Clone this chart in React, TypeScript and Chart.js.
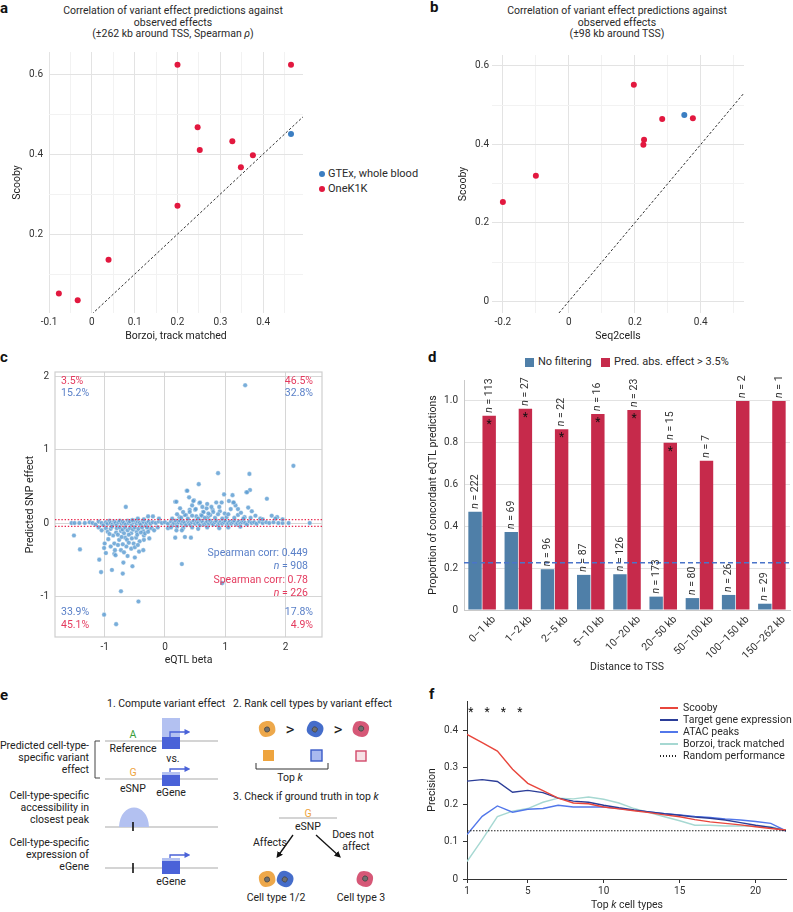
import React, { useEffect, useRef } from 'react';
import { Chart, registerables } from 'chart.js';

Chart.register(...registerables);

const FONT = 'Roboto, "Liberation Sans", "DejaVu Sans", sans-serif';
Chart.defaults.font.family = FONT;
Chart.defaults.font.size = 10;
Chart.defaults.color = '#333333';

const RED = '#e2183f';
const BLUE = '#3b7ec2';
const TXT_BLUE = '#5a80c8';
const TXT_RED = '#e43a5e';

// ---------------- Panel a ----------------
const aOneK1KBorzoi = [-0.077, -0.033, 0.039, 0.2, 0.2, 0.247, 0.252, 0.328, 0.348, 0.376, 0.465];
const aOneK1KScooby = [0.052, 0.035, 0.136, 0.623, 0.271, 0.467, 0.41, 0.432, 0.367, 0.397, 0.623];
const aGtexBorzoi = [0.465];
const aGtexScooby = [0.45];
const aDiagonal = [0, 0.493];
const aXMajor = [-0.1, 0, 0.1, 0.2, 0.3, 0.4];
const aXMinor = [-0.05, 0.05, 0.15, 0.25, 0.35, 0.45];
const aYMajor = [0.2, 0.4, 0.6];
const aYMinor = [0.1, 0.3, 0.5];

// ---------------- Panel b ----------------
const bOneK1KSeq2cells = [-0.2, -0.1, 0.197, 0.228, 0.226, 0.283, 0.376];
const bOneK1KScooby = [0.253, 0.32, 0.552, 0.412, 0.399, 0.465, 0.467];
const bGtexSeq2cells = [0.35];
const bGtexScooby = [0.475];
const bDiagonal = [-0.03, 0.531];
const bXMajor = [-0.2, 0, 0.2, 0.4];
const bXMinor = [-0.1, 0.1, 0.3, 0.5];
const bYMajor = [0, 0.2, 0.4, 0.6];
const bYMinor = [0.1, 0.3, 0.5];

// ---------------- Panel c ----------------
const cBand = [
  [-1.55, 0], [-1.5, 0], [-1.42, 0], [-1.33, 0], [-1.25, 0.01], [-1.2, 0], [-1.15, -0.02], [-1.1, 0.02], [-1.05, 0],
  [-1.02, -0.03], [-0.98, 0.01], [-0.95, -0.01], [-0.92, 0.03], [-0.9, 0], [-0.87, -0.02], [-0.84, 0.02], [-0.82, 0],
  [-0.8, -0.03], [-0.77, 0.01], [-0.75, 0.03], [-0.72, -0.01], [-0.7, 0.02], [-0.68, 0], [-0.65, -0.02], [-0.62, 0.03],
  [-0.6, 0], [-0.58, 0.02], [-0.55, -0.03], [-0.52, 0.01], [-0.5, 0.03], [-0.47, -0.01], [-0.45, 0.02], [-0.42, 0],
  [-0.4, -0.02], [-0.37, 0.03], [-0.35, 0.01], [-0.32, -0.03], [-0.3, 0], [-0.27, 0.02], [-0.24, -0.01], [-0.2, 0.01],
  [-0.15, 0], [-0.1, 0.02], [-0.05, 0], [0, 0.01], [0.05, -0.01], [0.1, 0.02], [0.12, -0.03], [0.15, 0], [0.18, 0.03],
  [0.2, -0.02], [0.23, 0.01], [0.25, 0.03], [0.28, -0.01], [0.3, 0.02], [0.33, 0], [0.35, -0.03], [0.38, 0.03], [0.4, 0],
  [0.42, -0.02], [0.45, 0.01], [0.48, 0.03], [0.5, -0.01], [0.53, 0.02], [0.55, 0], [0.58, -0.03], [0.6, 0.03],
  [0.63, 0.01], [0.65, -0.02], [0.68, 0], [0.7, 0.02], [0.73, -0.01], [0.75, 0.03], [0.78, 0], [0.8, -0.02], [0.83, 0.01],
  [0.85, 0.03], [0.88, -0.03], [0.9, 0], [0.93, 0.02], [0.95, -0.01], [0.98, 0.01], [1.0, 0.03], [1.03, -0.02], [1.05, 0],
  [1.08, 0.02], [1.1, -0.01], [1.13, 0.01], [1.15, 0.03], [1.18, -0.02], [1.2, 0], [1.23, 0.02], [1.25, -0.01],
  [1.28, 0.01], [1.3, 0.03], [1.33, 0], [1.36, -0.02], [1.4, 0.02], [1.44, 0], [1.48, 0.01], [1.52, -0.01], [1.57, 0.02],
  [1.62, 0], [1.68, 0.01], [1.73, 0], [1.8, 0.01], [1.88, 0], [1.95, 0], [2.05, 0], [2.4, 0],
];
const cNegative = [
  [-1.0, -0.28], [-0.94, -0.22], [-0.86, -0.17], [-0.81, -0.13], [-0.73, -0.11], [-0.66, -0.2], [-0.56, -0.14],
  [-0.47, -0.12], [-0.36, -0.11], [-0.27, -0.08], [-0.63, -0.23], [-0.52, -0.28], [-0.35, -0.23], [-0.26, -0.21],
  [-0.56, -0.35], [-0.64, -0.32], [-0.73, -0.37], [-0.84, -0.42], [-0.43, -0.39], [-0.84, -0.28], [-0.76, -0.23],
  [-0.7, -0.29], [-0.48, -0.2], [-0.35, -0.17], [-1.1, -0.06], [-1.05, -0.1], [-0.98, -0.07], [-0.95, -0.12],
  [-0.9, -0.08], [-0.88, -0.05], [-0.8, -0.07], [-0.78, -0.16], [-0.75, -0.06], [-0.7, -0.09], [-0.68, -0.14],
  [-0.66, -0.06], [-0.62, -0.1], [-0.6, -0.16], [-0.58, -0.07], [-0.55, -0.21], [-0.53, -0.09], [-0.5, -0.06],
  [-0.46, -0.16], [-0.44, -0.08], [-0.42, -0.25], [-0.4, -0.13], [-0.38, -0.06], [-0.33, -0.14], [-0.3, -0.06],
  [-0.28, -0.12], [-0.22, -0.07], [-0.18, -0.1], [-0.12, -0.06], [-0.9, -0.32], [-0.78, -0.3], [-0.68, -0.4],
  [-0.6, -0.27], [-0.5, -0.33], [-0.62, -0.45], [-0.45, -0.3], [-0.72, -0.19], [-0.92, -0.15], [0.05, -0.07],
  [0.1, -0.06], [0.2, -0.05], [0.3, -0.07], [0.45, -0.06], [0.55, -0.08], [0.7, -0.06], [0.9, -0.07], [1.05, -0.06],
  [1.25, -0.05], [0.17, -0.2], [0.28, -0.1], [0.33, -0.19], [0.43, -0.2], [0.19, -0.1],
];
const cPositive = [
  [-0.2, 0.09], [-0.28, 0.09], [-0.54, 0.04], [-0.45, 0.06], [-0.35, 0.05], [-0.1, 0.06], [0.17, 0.29], [0.36, 0.44],
  [0.24, 0.08], [0.35, 0.11], [0.41, 0.18], [0.48, 0.31], [0.5, 0.18], [0.57, 0.27], [0.63, 0.15], [0.71, 0.08],
  [0.79, 0.18], [0.85, 0.28], [0.52, 0.09], [0.6, 0.11], [0.4, 0.35], [0.47, 0.3], [0.19, 0.29], [1.13, 0.28],
  [1.35, 0.42], [1.69, 0.33], [0.98, 0.39], [0.94, 0.28], [1.38, 0.21], [1.44, 0.16], [1.21, 0.19], [1.09, 0.19],
  [0.77, 0.22], [0.8, 0.15], [0.58, 0.28], [0.51, 0.19], [0.41, 0.15], [0.33, 0.11], [0.64, 0.15], [0.69, 0.2],
  [0.91, 0.16], [0.99, 0.13], [0.61, 0.1], [0.75, 0.11], [1.77, 0.1], [1.86, 0.08], [1.02, 0.08], [1.21, 0.11],
  [1.32, 0.08], [0.12, 0.06], [0.2, 0.12], [0.27, 0.07], [0.3, 0.15], [0.38, 0.06], [0.45, 0.1], [0.55, 0.06],
  [0.66, 0.07], [0.72, 0.13], [0.83, 0.07], [0.88, 0.12], [0.95, 0.06], [1.05, 0.12], [1.15, 0.07], [1.26, 0.14],
  [1.3, 0.06], [1.42, 0.07], [1.5, 0.1], [1.58, 0.06], [0.7, 0.26], [0.9, 0.22], [1.17, 0.24], [1.06, 0.3],
  [0.62, 0.22], [0.45, 0.24], [0.25, 0.2], [1.62, 0.05], [1.95, 0.05],
];
const cOutliers = [
  [1.33, 1.88], [2.13, 0.78], [0.88, 0.68], [1.4, 0.67], [1.41, 0.45], [1.36, 0.42], [0.56, 0.53], [0.37, 0.44],
  [1.12, 0.38], [1.14, 0.28], [1.83, 0.06], [-0.65, 0.22], [-1.51, -0.17], [-1.41, -0.36], [-1.09, -0.5],
  [-1.06, -0.67], [-0.88, -0.64], [-0.7, -0.69], [-0.69, -0.54], [-0.54, -0.59], [-0.73, -0.93], [-0.44, -1.07],
  [-1.01, -0.34], [-0.98, -0.41], [-0.83, -0.37], [-0.82, -0.44], [-0.36, -0.37], [-0.5, -0.47], [0.28, -0.56],
  [0.95, -0.82], [-1.01, -1.25], [-0.81, -1.38],
];
const cThreshold = 0.045;
const cTicks = [-1, 0, 1, 2];
const cQuadAll = { tl: '15.2%', tr: '32.8%', bl: '33.9%', br: '17.8%' };
const cQuadFiltered = { tl: '3.5%', tr: '46.5%', bl: '45.1%', br: '4.9%' };
const cStatsAll = { corr: '0.449', n: '908' };
const cStatsFiltered = { corr: '0.78', n: '226' };

// ---------------- Panel d ----------------
const dCategories = ['0–1 kb', '1–2 kb', '2–5 kb', '5–10 kb', '10–20 kb', '20–50 kb', '50–100 kb', '100–150 kb', '150–262 kb'];
const dNoFilter = [0.47, 0.373, 0.195, 0.168, 0.171, 0.064, 0.057, 0.072, 0.03];
const dFiltered = [0.929, 0.963, 0.864, 0.937, 0.956, 0.8, 0.714, 1.0, 1.0];
const dNoFilterN = [222, 69, 96, 87, 126, 173, 80, 26, 29];
const dFilteredN = [113, 27, 22, 16, 23, 15, 7, 2, 1];
const dSignificant = [true, true, true, true, true, true, false, false, false];
const dBaseline = 0.226;
const dYTicks = [0, 0.2, 0.4, 0.6, 0.8, 1.0];

// ---------------- Panel f ----------------
const fK = [1, 2, 3, 4, 5, 6, 7, 8, 9, 10, 11, 12, 13, 14, 15, 16, 17, 18, 19, 20, 21, 22];
const fScooby = [0.39, 0.368, 0.345, 0.296, 0.258, 0.238, 0.218, 0.205, 0.203, 0.194, 0.189, 0.184, 0.179, 0.173, 0.168, 0.16, 0.154, 0.15, 0.146, 0.141, 0.136, 0.132];
const fTargetGene = [0.264, 0.268, 0.263, 0.234, 0.239, 0.233, 0.218, 0.21, 0.207, 0.199, 0.192, 0.186, 0.181, 0.176, 0.172, 0.167, 0.164, 0.159, 0.152, 0.145, 0.139, 0.13];
const fAtac = [0.12, 0.169, 0.197, 0.18, 0.188, 0.19, 0.199, 0.194, 0.194, 0.194, 0.19, 0.185, 0.181, 0.176, 0.173, 0.169, 0.166, 0.162, 0.159, 0.155, 0.15, 0.13];
const fBorzoi = [0.047, 0.106, 0.168, 0.183, 0.19, 0.207, 0.218, 0.216, 0.221, 0.215, 0.205, 0.19, 0.179, 0.168, 0.157, 0.145, 0.145, 0.143, 0.143, 0.143, 0.141, 0.13];
const fRandom = 0.13;
const fStarK = [1.25, 2.33, 3.4, 4.47];
const fStarY = 0.452;
const fXTicks = [1, 5, 10, 15, 20];
const fYTicks = [0, 0.1, 0.2, 0.3, 0.4];

const F_COLORS = { scooby: '#e8463c', target: '#2b3d98', atac: '#5277ea', borzoi: '#a6d8d2' };

// ---------------- helpers ----------------
const near = (list: number[], v: number) => list.some((m) => Math.abs(m - v) < 1e-9);
const fmt1 = (v: number) => (Math.abs(v) < 1e-9 ? '0' : v.toFixed(1));
const pts = (xs: number[], ys: number[]) => xs.map((x, i) => ({ x, y: ys[i] }));

function drawItalicN(ctx: any, x: number, y: number, rest: string, align: string, color: string, size: number) {
  ctx.fillStyle = color;
  ctx.textBaseline = 'middle';
  ctx.textAlign = 'left';
  ctx.font = `italic ${size}px ${FONT}`;
  const wN = ctx.measureText('n').width;
  ctx.font = `${size}px ${FONT}`;
  const wR = ctx.measureText(rest).width;
  let start = x;
  if (align === 'right') start = x - wN - wR;
  ctx.font = `italic ${size}px ${FONT}`;
  ctx.fillText('n', start, y);
  ctx.font = `${size}px ${FONT}`;
  ctx.fillText(rest, start + wN, y);
}

function gridScale(o: any) {
  const { min, max, major, minor, fit, vertical, title, titlePadding, tickPadding } = o;
  return {
    type: 'linear',
    min,
    max,
    afterBuildTicks: (s: any) => {
      s.ticks = [...major, ...minor].sort((p: number, q: number) => p - q).map((value: number) => ({ value }));
    },
    afterFit: (s: any) => {
      if (vertical) s.width = fit;
      else s.height = fit;
    },
    grid: {
      color: (c: any) => (c.tick && near(minor, c.tick.value) ? '#f2f2f2' : '#e3e3e3'),
      lineWidth: 1,
      drawTicks: false,
    },
    border: { display: false },
    ticks: {
      padding: tickPadding,
      autoSkip: false,
      maxRotation: 0,
      color: '#333',
      font: { size: 10 },
      callback: (v: number) => (near(minor, v) ? '' : fmt1(v)),
    },
    title: { display: true, text: title, color: '#222', font: { size: 10.5 }, padding: titlePadding },
  };
}

const baseOptions = (padding: any) => ({
  animation: false,
  responsive: true,
  maintainAspectRatio: false,
  events: [],
  layout: { padding, autoPadding: false },
  plugins: { legend: { display: false }, tooltip: { enabled: false }, title: { display: false } },
});

// ---------------- configs ----------------
function configA() {
  return {
    type: 'scatter',
    data: {
      datasets: [
        { type: 'line', data: aDiagonal.map((v) => ({ x: v, y: v })), borderColor: '#1a1a1a', borderWidth: 0.9, borderDash: [2.5, 2], pointRadius: 0, fill: false, order: 2 },
        { data: pts(aOneK1KBorzoi, aOneK1KScooby), backgroundColor: RED, borderWidth: 0, pointRadius: 3, order: 1 },
        { data: pts(aGtexBorzoi, aGtexScooby), backgroundColor: BLUE, borderWidth: 0, pointRadius: 3, order: 0 },
      ],
    },
    options: {
      ...baseOptions({ top: 10, right: 7, left: 0, bottom: 0 }),
      scales: {
        x: gridScale({ min: -0.1, max: 0.493, major: aXMajor, minor: aXMinor, fit: 34, title: 'Borzoi, track matched', titlePadding: { top: 0, bottom: 4 }, tickPadding: 3 }),
        y: gridScale({ min: 0.003, max: 0.655, major: aYMajor, minor: aYMinor, fit: 49, vertical: true, title: 'Scooby', titlePadding: { top: 11, bottom: 0 }, tickPadding: 6 }),
      },
    },
  };
}

function configB() {
  return {
    type: 'scatter',
    data: {
      datasets: [
        { type: 'line', data: bDiagonal.map((v) => ({ x: v, y: v })), borderColor: '#1a1a1a', borderWidth: 0.9, borderDash: [2.5, 2], pointRadius: 0, fill: false, order: 2 },
        { data: pts(bOneK1KSeq2cells, bOneK1KScooby), backgroundColor: RED, borderWidth: 0, pointRadius: 3, order: 1 },
        { data: pts(bGtexSeq2cells, bGtexScooby), backgroundColor: BLUE, borderWidth: 0, pointRadius: 3, order: 0 },
      ],
    },
    options: {
      ...baseOptions({ top: 15, right: 6, left: 0, bottom: 0 }),
      scales: {
        x: gridScale({ min: -0.233, max: 0.531, major: bXMajor, minor: bXMinor, fit: 34, title: 'Seq2cells', titlePadding: { top: 0, bottom: 4 }, tickPadding: 3 }),
        y: gridScale({ min: -0.03, max: 0.628, major: bYMajor, minor: bYMinor, fit: 52, vertical: true, title: 'Scooby', titlePadding: { top: 16.7, bottom: 0 }, tickPadding: 3 }),
      },
    },
  };
}

const cPlugin = {
  id: 'cAnnotations',
  beforeDatasetsDraw(chart: any) {
    const { ctx, chartArea: a } = chart;
    ctx.save();
    ctx.strokeStyle = '#cfcfcf';
    ctx.lineWidth = 1.2;
    ctx.strokeRect(a.left, a.top, a.right - a.left, a.bottom - a.top);
    ctx.restore();
  },
  afterDatasetsDraw(chart: any) {
    const { ctx, chartArea: a } = chart;
    ctx.save();
    const size = 10.5;
    const put = (t: string, x: number, y: number, color: string, align: string) => {
      ctx.font = `${size}px ${FONT}`;
      ctx.fillStyle = color;
      ctx.textAlign = align;
      ctx.textBaseline = 'middle';
      ctx.fillText(t, x, y);
    };
    const L = a.left + 6;
    const R = a.right - 9;
    put(cQuadFiltered.tl, L, a.top + 9, TXT_RED, 'left');
    put(cQuadAll.tl, L, a.top + 21, TXT_BLUE, 'left');
    put(cQuadFiltered.tr, R, a.top + 9, TXT_RED, 'right');
    put(cQuadAll.tr, R, a.top + 21, TXT_BLUE, 'right');
    put(cQuadAll.bl, L, a.bottom - 25, TXT_BLUE, 'left');
    put(cQuadFiltered.bl, L, a.bottom - 12, TXT_RED, 'left');
    put(cQuadAll.br, R, a.bottom - 25, TXT_BLUE, 'right');
    put(cQuadFiltered.br, R, a.bottom - 12, TXT_RED, 'right');
    const SR = a.right - 14;
    put('Spearman corr: ' + cStatsAll.corr, SR, a.bottom - 84, TXT_BLUE, 'right');
    drawItalicN(ctx, SR, a.bottom - 71, ' = ' + cStatsAll.n, 'right', TXT_BLUE, size);
    put('Spearman corr: ' + cStatsFiltered.corr, SR, a.bottom - 57, TXT_RED, 'right');
    drawItalicN(ctx, SR, a.bottom - 44, ' = ' + cStatsFiltered.n, 'right', TXT_RED, size);
    ctx.restore();
  },
};

function configC() {
  const allPoints = [...cBand, ...cNegative, ...cPositive, ...cOutliers].map(([x, y]) => ({ x, y }));
  const lineStyle = { type: 'line', borderColor: '#e8284f', borderWidth: 1.3, borderDash: [1.4, 1.8], pointRadius: 0, fill: false, order: 0 };
  const scale = (o: any) => ({
    type: 'linear',
    min: o.min,
    max: o.max,
    afterBuildTicks: (s: any) => {
      s.ticks = cTicks.map((value) => ({ value }));
    },
    afterFit: (s: any) => {
      if (o.vertical) s.width = o.fit;
      else s.height = o.fit;
    },
    grid: { color: '#d6d6d6', lineWidth: 1, drawTicks: false },
    border: { display: false },
    ticks: { padding: o.tickPadding, autoSkip: false, maxRotation: 0, color: '#333', font: { size: 10 }, callback: (v: number) => String(v) },
    title: { display: true, text: o.title, color: '#222', font: { size: 10.5 }, padding: o.titlePadding },
  });
  return {
    type: 'scatter',
    data: {
      datasets: [
        { data: allPoints, backgroundColor: 'rgba(98,160,212,0.85)', borderColor: 'rgba(255,255,255,0.7)', borderWidth: 0.5, pointRadius: 2.3, order: 1 },
        { ...lineStyle, data: [{ x: -1.824, y: cThreshold }, { x: 2.604, y: cThreshold }] },
        { ...lineStyle, data: [{ x: -1.824, y: -cThreshold }, { x: 2.604, y: -cThreshold }] },
      ],
    },
    options: {
      ...baseOptions({ top: 12, right: 8, left: 0, bottom: 0 }),
      scales: {
        x: scale({ min: -1.824, max: 2.604, fit: 35, tickPadding: 4, title: 'eQTL beta', titlePadding: { top: 0, bottom: 5.7 } }),
        y: scale({ min: -1.555, max: 2.06, fit: 55, vertical: true, tickPadding: 6, title: 'Predicted SNP effect', titlePadding: { top: 23.7, bottom: 0 } }),
      },
    },
    plugins: [cPlugin],
  };
}

const dPlugin = {
  id: 'dAnnotations',
  afterDatasetsDraw(chart: any) {
    const { ctx, chartArea: a, scales } = chart;
    ctx.save();
    const yy = scales.y.getPixelForValue(dBaseline);
    ctx.strokeStyle = '#4a74c9';
    ctx.lineWidth = 1.5;
    ctx.setLineDash([5, 3]);
    ctx.beginPath();
    ctx.moveTo(a.left, yy);
    ctx.lineTo(a.right, yy);
    ctx.stroke();
    ctx.setLineDash([]);
    const counts = [dNoFilterN, dFilteredN];
    [0, 1].forEach((di) => {
      const meta = chart.getDatasetMeta(di);
      meta.data.forEach((bar: any, i: number) => {
        ctx.save();
        ctx.translate(bar.x, bar.y - 3);
        ctx.rotate(-Math.PI / 2);
        drawItalicN(ctx, 0, 0, ' = ' + counts[di][i], 'left', '#333', 10.5);
        ctx.restore();
        if (di === 1 && dSignificant[i]) {
          ctx.font = `12px ${FONT}`;
          ctx.fillStyle = '#111';
          ctx.textAlign = 'center';
          ctx.textBaseline = 'middle';
          ctx.fillText('*', bar.x, bar.y + 9);
        }
      });
    });
    // category labels, rotated 45 degrees, anchored to the scale's tick pixels
    dCategories.forEach((lab, i) => {
      const px = scales.x.getPixelForTick(i);
      ctx.save();
      ctx.translate(px + 12, a.bottom + 8);
      ctx.rotate(-Math.PI / 4);
      ctx.font = `10.5px ${FONT}`;
      ctx.fillStyle = '#333';
      ctx.textAlign = 'right';
      ctx.textBaseline = 'middle';
      ctx.fillText(lab, 0, 0);
      ctx.restore();
    });
    ctx.restore();
  },
};

function configD() {
  return {
    type: 'bar',
    data: {
      labels: dCategories,
      datasets: [
        { label: 'No filtering', data: dNoFilter, backgroundColor: '#4f7fa8', categoryPercentage: 0.78, barPercentage: 0.95 },
        { label: 'Pred. abs. effect > 3.5%', data: dFiltered, backgroundColor: '#c62a4b', categoryPercentage: 0.78, barPercentage: 0.95 },
      ],
    },
    options: {
      ...baseOptions({ top: 35, right: 3, left: 0, bottom: 0 }),
      scales: {
        x: {
          grid: { display: false },
          border: { display: true, color: '#c9c9c9' },
          ticks: { display: false },
          afterFit: (s: any) => {
            s.height = 65;
          },
          title: { display: false },
        },
        y: {
          type: 'linear',
          min: 0,
          max: 1.1,
          afterBuildTicks: (s: any) => {
            s.ticks = dYTicks.map((value) => ({ value }));
          },
          afterFit: (s: any) => {
            s.width = 64;
          },
          grid: { color: '#e2e2e2', drawTicks: false },
          border: { display: true, color: '#c9c9c9' },
          ticks: { padding: 6, color: '#333', font: { size: 10 }, callback: (v: number) => fmt1(v) },
          title: { display: true, text: 'Proportion of concordant eQTL predictions', color: '#222', font: { size: 10.5 }, padding: { top: 27, bottom: 0 } },
        },
      },
    },
    plugins: [dPlugin],
  };
}

const fPlugin = {
  id: 'fStars',
  afterDatasetsDraw(chart: any) {
    const { ctx, scales } = chart;
    ctx.save();
    ctx.font = `12px ${FONT}`;
    ctx.fillStyle = '#111';
    ctx.textAlign = 'center';
    ctx.textBaseline = 'middle';
    fStarK.forEach((k) => ctx.fillText('*', scales.x.getPixelForValue(k), scales.y.getPixelForValue(fStarY) + 2));
    ctx.restore();
  },
};

function configF() {
  const line = (ys: number[], color: string, order: number) => ({
    data: pts(fK, ys),
    borderColor: color,
    borderWidth: 1.4,
    pointRadius: 0,
    tension: 0,
    fill: false,
    order,
  });
  const axisGrid = { drawOnChartArea: false, drawTicks: true, tickLength: 4, color: '#333', lineWidth: 1 };
  return {
    type: 'line',
    data: {
      datasets: [
        { data: [{ x: 1, y: fRandom }, { x: 22, y: fRandom }], borderColor: '#222', borderWidth: 1.1, borderDash: [1.5, 1.5], pointRadius: 0, fill: false, order: 0 },
        line(fScooby, F_COLORS.scooby, 1),
        line(fTargetGene, F_COLORS.target, 2),
        line(fAtac, F_COLORS.atac, 3),
        line(fBorzoi, F_COLORS.borzoi, 4),
      ],
    },
    options: {
      ...baseOptions({ top: 8, right: 7, left: 0, bottom: 0 }),
      scales: {
        x: {
          type: 'linear',
          min: 1,
          max: 22,
          afterBuildTicks: (s: any) => {
            s.ticks = fXTicks.map((value) => ({ value }));
          },
          afterFit: (s: any) => {
            s.height = 33;
          },
          grid: axisGrid,
          border: { display: true, color: '#333' },
          ticks: { padding: 2, color: '#333', font: { size: 10 }, maxRotation: 0, autoSkip: false },
          title: { display: false },
        },
        y: {
          type: 'linear',
          min: 0,
          max: 0.48,
          afterBuildTicks: (s: any) => {
            s.ticks = fYTicks.map((value) => ({ value }));
          },
          afterFit: (s: any) => {
            s.width = 67;
          },
          grid: axisGrid,
          border: { display: true, color: '#333' },
          ticks: { padding: 5, color: '#333', font: { size: 10 }, callback: (v: number) => fmt1(v) },
          title: { display: true, text: 'Precision', color: '#222', font: { size: 10.5 }, padding: { top: 26, bottom: 0 } },
        },
      },
    },
    plugins: [fPlugin],
  };
}

// ---------------- components ----------------
function ChartBox({ left, top, width, height, make }: any) {
  const ref = useRef<HTMLCanvasElement>(null);
  useEffect(() => {
    const chart = new Chart(ref.current as HTMLCanvasElement, make());
    return () => chart.destroy();
  }, []);
  return (
    <div style={{ position: 'absolute', left, top, width, height }}>
      <canvas ref={ref} />
    </div>
  );
}

function Txt({ x, y, children, size = 10.5, align = 'left', color = '#2a2a2a', bold = false }: any) {
  const tx = align === 'center' ? '-50%' : align === 'right' ? '-100%' : '0';
  return (
    <div
      style={{
        position: 'absolute',
        left: x,
        top: y,
        transform: `translate(${tx}, -50%)`,
        fontSize: size,
        color,
        fontWeight: bold ? 700 : 400,
        whiteSpace: 'nowrap',
        lineHeight: 1.1,
      }}
    >
      {children}
    </div>
  );
}

function Dot({ x, y, color }: any) {
  return <div style={{ position: 'absolute', left: x - 3, top: y - 3, width: 6, height: 6, borderRadius: 3, background: color }} />;
}

function Swatch({ x, y, color, dashed }: any) {
  return (
    <div
      style={{
        position: 'absolute',
        left: x,
        top: y - 1,
        width: 18,
        height: 1.6,
        background: dashed ? `repeating-linear-gradient(90deg, ${color} 0 1.5px, transparent 1.5px 3px)` : color,
      }}
    />
  );
}

function Cell({ x, y, color, rot = 0 }: any) {
  return (
    <g transform={`translate(${x},${y}) rotate(${rot})`}>
      <path d="M-8,-1 C-8,-7 -2,-8.5 3,-7.5 C8,-6.5 9,-1 8,3 C7,7 1,8.5 -3,7.5 C-7,6.5 -8,3 -8,-1 Z" fill={color} opacity={0.92} />
      <circle cx={0} cy={0.5} r={2.6} fill="#707070" stroke="#3a3a3a" strokeWidth={0.6} />
    </g>
  );
}

function PanelE() {
  const dark = '#4a62d8';
  const light = '#b3c1f1';
  const gray = '#c6c6c6';
  const orange = '#eea43e';
  const t = { dominantBaseline: 'central' as any };
  return (
    <svg width={400} height={232} style={{ position: 'absolute', left: 0, top: 680 }} fontFamily={FONT} fontSize={10.5} fill="#222">
      <defs>
        <marker id="ahBlue" viewBox="0 0 10 10" refX="6" refY="5" markerWidth="4.5" markerHeight="4.5" orient="auto">
          <path d="M0,0 L10,5 L0,10 z" fill={dark} />
        </marker>
        <marker id="ahBlack" viewBox="0 0 10 10" refX="6" refY="5" markerWidth="5" markerHeight="5" orient="auto">
          <path d="M0,0 L10,5 L0,10 z" fill="#111" />
        </marker>
      </defs>
      <text x={107} y={23} {...t}>1. Compute variant effect</text>
      <text x={233} y={23} {...t}>2. Rank cell types by variant effect</text>

      <text x={89} y={65} textAnchor="end" {...t}>Predicted cell-type-</text>
      <text x={89} y={77} textAnchor="end" {...t}>specific variant</text>
      <text x={89} y={89} textAnchor="end" {...t}>effect</text>
      <path d="M100,61 H95 V98 H100" stroke="#444" strokeWidth={1} fill="none" />

      <line x1={105} x2={218} y1={61} y2={61} stroke={gray} strokeWidth={1.4} />
      <text x={133} y={54} textAnchor="middle" fill="#3a9e3a" {...t}>A</text>
      <text x={133} y={68} textAnchor="middle" {...t}>Reference</text>
      <rect x={162} y={38} width={18} height={20} fill={light} />
      <rect x={162} y={57} width={18} height={12} fill={dark} />
      <path d="M170,57 V52 H188" stroke={dark} strokeWidth={1.3} fill="none" markerEnd="url(#ahBlue)" />
      <text x={173} y={78} textAnchor="middle" {...t}>vs.</text>

      <line x1={105} x2={218} y1={99} y2={99} stroke={gray} strokeWidth={1.4} />
      <text x={133} y={92} textAnchor="middle" fill={orange} {...t}>G</text>
      <text x={133} y={108} textAnchor="middle" {...t}>eSNP</text>
      <rect x={162} y={92} width={18} height={5} fill={light} />
      <rect x={162} y={95} width={18} height={11} fill={dark} />
      <path d="M170,92 V89 H188" stroke={dark} strokeWidth={1.3} fill="none" markerEnd="url(#ahBlue)" />
      <text x={171} y={112} textAnchor="middle" {...t}>eGene</text>

      <text x={89} y={115} textAnchor="end" {...t}>Cell-type-specific</text>
      <text x={89} y={127} textAnchor="end" {...t}>accessibility in</text>
      <text x={89} y={139} textAnchor="end" {...t}>closest peak</text>
      <line x1={105} x2={218} y1={147} y2={147} stroke={gray} strokeWidth={1.4} />
      <path d="M119,147 C120,121 148,121 149,147 Z" fill={light} />
      <line x1={133} x2={133} y1={142} y2={151} stroke="#111" strokeWidth={1.6} />

      <text x={89} y={162} textAnchor="end" {...t}>Cell-type-specific</text>
      <text x={89} y={174} textAnchor="end" {...t}>expression of</text>
      <text x={89} y={186} textAnchor="end" {...t}>eGene</text>
      <line x1={105} x2={218} y1={188} y2={188} stroke={gray} strokeWidth={1.4} />
      <line x1={133} x2={133} y1={183} y2={193} stroke="#111" strokeWidth={1.6} />
      <rect x={162} y={178} width={18} height={5} fill={light} />
      <rect x={162} y={181} width={18} height={13} fill={dark} />
      <path d="M170,178 V175 H188" stroke={dark} strokeWidth={1.3} fill="none" markerEnd="url(#ahBlue)" />
      <text x={171} y={201} textAnchor="middle" {...t}>eGene</text>

      <Cell x={267} y={49} color="#eba13c" rot={-10} />
      <text x={290} y={49} textAnchor="middle" fontSize={17} {...t}>&gt;</text>
      <Cell x={315} y={49} color="#3561c6" rot={30} />
      <text x={338} y={49} textAnchor="middle" fontSize={17} {...t}>&gt;</text>
      <Cell x={361} y={49} color="#d34a6b" rot={200} />
      <rect x={263} y={70} width={11} height={11} fill="#eea43e" />
      <rect x={311} y={70} width={11} height={11} fill="#a9b9ef" stroke="#3a5bc8" strokeWidth={1.4} />
      <rect x={356} y={71} width={10} height={10} fill="#f7e1e6" stroke="#d2496a" strokeWidth={1.4} />
      <path d="M256,83 V89 H328 V83" stroke="#333" strokeWidth={1} fill="none" />
      <text x={290} y={97} textAnchor="middle" {...t}>
        Top <tspan fontStyle="italic">k</tspan>
      </text>

      <text x={233} y={116} {...t}>
        3. Check if ground truth in top <tspan fontStyle="italic">k</tspan>
      </text>
      <line x1={279} x2={337} y1={138} y2={138} stroke={gray} strokeWidth={1.4} />
      <text x={308} y={133} textAnchor="middle" fill={orange} {...t}>G</text>
      <text x={308} y={146} textAnchor="middle" {...t}>eSNP</text>
      <line x1={293} y1={155} x2={278} y2={176} stroke="#111" strokeWidth={1.3} markerEnd="url(#ahBlack)" />
      <line x1={316} y1={155} x2={339} y2={176} stroke="#111" strokeWidth={1.3} markerEnd="url(#ahBlack)" />
      <text x={270} y={162} textAnchor="middle" {...t}>Affects</text>
      <text x={353} y={154} textAnchor="middle" {...t}>Does not</text>
      <text x={356} y={166} textAnchor="middle" {...t}>affect</text>
      <Cell x={267} y={199} color="#eba13c" rot={-10} />
      <Cell x={285} y={199} color="#3561c6" rot={30} />
      <Cell x={365} y={199} color="#d34a6b" rot={200} />
      <text x={276} y={217} textAnchor="middle" {...t}>Cell type 1/2</text>
      <text x={361} y={217} textAnchor="middle" {...t}>Cell type 3</text>
    </svg>
  );
}

export default function App() {
  return (
    <div
      style={{
        position: 'absolute',
        left: 0,
        top: 0,
        width: 793,
        height: 912,
        overflow: 'hidden',
        background: '#fff',
        fontFamily: FONT,
        color: '#2a2a2a',
      }}
    >
      {/* panel letters */}
      <Txt x={0} y={8} size={15} bold color="#111">a</Txt>
      <Txt x={430} y={7} size={15} bold color="#111">b</Txt>
      <Txt x={0} y={357} size={15} bold color="#111">c</Txt>
      <Txt x={428} y={357} size={15} bold color="#111">d</Txt>
      <Txt x={0} y={695} size={15} bold color="#111">e</Txt>
      <Txt x={429} y={694} size={15} bold color="#111">f</Txt>

      {/* panel a */}
      <Txt x={173} y={11} align="center">Correlation of variant effect predictions against</Txt>
      <Txt x={173} y={23} align="center">observed effects</Txt>
      <Txt x={173} y={34} align="center">
        (±262 kb around TSS, Spearman <i>ρ</i>)
      </Txt>
      <ChartBox left={0} top={40} width={310} height={307} make={configA} />
      <Dot x={322} y={174} color={BLUE} />
      <Txt x={328} y={174} size={11}>GTEx, whole blood</Txt>
      <Dot x={322} y={189} color={RED} />
      <Txt x={328} y={189} size={11}>OneK1K</Txt>

      {/* panel b */}
      <Txt x={617} y={11} align="center">Correlation of variant effect predictions against</Txt>
      <Txt x={617} y={23} align="center">observed effects</Txt>
      <Txt x={617} y={34} align="center">(±98 kb around TSS)</Txt>
      <ChartBox left={440} top={40} width={310} height={307} make={configB} />

      {/* panel c */}
      <ChartBox left={0} top={360} width={330} height={312} make={configC} />

      {/* panel d */}
      <div style={{ position: 'absolute', left: 525, top: 358, width: 9, height: 9, background: '#4f7fa8' }} />
      <Txt x={538} y={362} size={11}>No filtering</Txt>
      <div style={{ position: 'absolute', left: 601, top: 358, width: 9, height: 9, background: '#c62a4b' }} />
      <Txt x={614} y={362} size={11}>Pred. abs. effect &gt; 3.5%</Txt>
      <ChartBox left={400} top={345} width={393} height={330} make={configD} />
      <Txt x={627} y={667} align="center">Distance to TSS</Txt>

      {/* panel e */}
      <PanelE />

      {/* panel f */}
      <ChartBox left={400} top={690} width={393} height={222} make={configF} />
      <Swatch x={660} y={708} color={F_COLORS.scooby} />
      <Txt x={683} y={708}>Scooby</Txt>
      <Swatch x={660} y={720} color={F_COLORS.target} />
      <Txt x={683} y={720}>Target gene expression</Txt>
      <Swatch x={660} y={732} color={F_COLORS.atac} />
      <Txt x={683} y={732}>ATAC peaks</Txt>
      <Swatch x={660} y={744} color={F_COLORS.borzoi} />
      <Txt x={683} y={744}>Borzoi, track matched</Txt>
      <Swatch x={660} y={756} color="#222" dashed />
      <Txt x={683} y={756}>Random performance</Txt>
      <Txt x={627} y={905} align="center">
        Top <i>k</i> cell types
      </Txt>
    </div>
  );
}
